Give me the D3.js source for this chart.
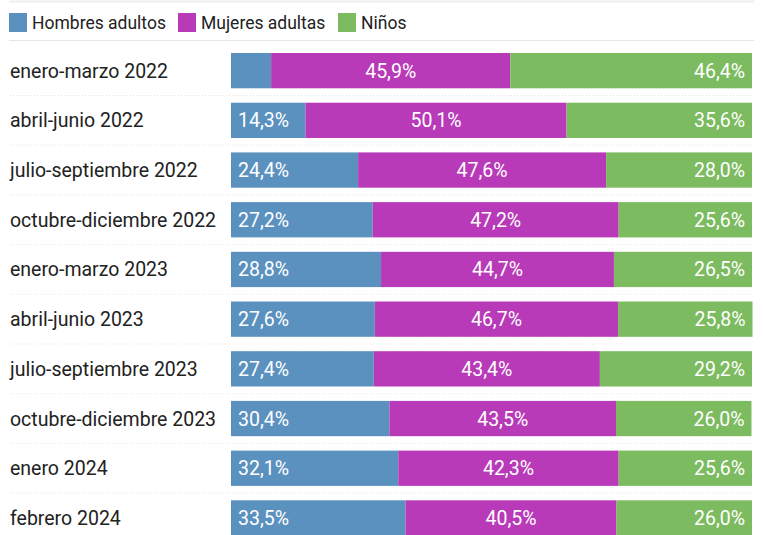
<!DOCTYPE html>
<html>
<head>
<meta charset="utf-8">
<script src="https://cdn.jsdelivr.net/npm/d3@7"></script>
<style>
  body { margin: 0; background: #fff; font-family: Roboto, "Noto Sans", sans-serif; }
</style>
</head>
<body>
<div id="chart"></div>
<script>
// categories + series (percent)
const periodos = ["enero-marzo 2022", "abril-junio 2022", "julio-septiembre 2022", "octubre-diciembre 2022",
  "enero-marzo 2023", "abril-junio 2023", "julio-septiembre 2023", "octubre-diciembre 2023",
  "enero 2024", "febrero 2024"];
const hombres = [7.7, 14.3, 24.4, 27.2, 28.8, 27.6, 27.4, 30.4, 32.1, 33.5];
const mujeres = [45.9, 50.1, 47.6, 47.2, 44.7, 46.7, 43.4, 43.5, 42.3, 40.5];
const ninos = [46.4, 35.6, 28.0, 25.6, 26.5, 25.8, 29.2, 26.0, 25.6, 26.0];
const series = ["Hombres adultos", "Mujeres adultas", "Niños"];
const colores = ["#5b91bf", "#b83ab8", "#7cbb5f"];

const width = 763, height = 535;
const svg = d3.select("#chart").append("svg")
  .attr("width", width).attr("height", height);

const rows = periodos.map((p, i) => ({ periodo: p, Hombres: hombres[i], Mujeres: mujeres[i], Ninos: ninos[i] }));
const stack = d3.stack().keys(["Hombres", "Mujeres", "Ninos"])(rows);

let x = d3.scaleLinear().domain([0, 100]).range([231, 752]);
let y = d3.scaleBand().domain(periodos).range([45.8, 542.8]).paddingInner(0.29).paddingOuter(0.145);
const fmt = v => d3.format(".1f")(v).replace(".", ",") + "%";

// top rules
svg.append("line").attr("x1", 9).attr("x2", 754).attr("y1", 1.5).attr("y2", 1.5)
  .attr("stroke", "#eeeeee").attr("stroke-width", 2);
svg.append("line").attr("x1", 9).attr("x2", 754).attr("y1", 40.5).attr("y2", 40.5)
  .attr("stroke", "#e6e6e6").attr("stroke-width", 1);

// legend
let lx = [9, 178, 338];
const legend = svg.append("g").selectAll("g").data(series).join("g")
  .attr("transform", (d, i) => `translate(${lx[i]},13)`);
legend.append("rect").attr("width", 18).attr("height", 19).attr("fill", (d, i) => colores[i]);
legend.append("text").attr("x", 23).attr("y", 16).attr("font-size", 17.5).attr("fill", "#222")
  .text(d => d);

// dotted separators between rows
const gap = (y.step() - y.bandwidth()) / 2;
svg.append("g").selectAll("line").data(periodos.slice(0, -1)).join("line")
  .attr("x1", 10).attr("x2", 752)
  .attr("y1", d => y(d) + y.bandwidth() + gap).attr("y2", d => y(d) + y.bandwidth() + gap)
  .attr("stroke", "#e4e4e4").attr("stroke-dasharray", "1,2");

// category labels
svg.append("g").selectAll("text").data(periodos).join("text")
  .attr("x", 10).attr("y", d => y(d) + y.bandwidth() / 2 + 7)
  .attr("font-size", 19.5).attr("fill", "#222").text(d => d);

// bars
stack.forEach((s, k) => {
  const g = svg.append("g");
  g.selectAll("rect").data(s).join("rect")
    .attr("x", d => x(d[0])).attr("width", d => x(d[1]) - x(d[0]))
    .attr("y", d => y(d.data.periodo)).attr("height", y.bandwidth())
    .attr("fill", colores[k]);
  g.selectAll("text").data(s.filter(d => x(d[1]) - x(d[0]) > 60)).join("text")
    .attr("x", d => k == 0 ? x(d[0]) + 7 : k == 1 ? (x(d[0]) + x(d[1])) / 2 : x(d[1]) - 7)
    .attr("y", d => y(d.data.periodo) + y.bandwidth() / 2 + 7)
    .attr("text-anchor", k == 0 ? "start" : k == 1 ? "middle" : "end")
    .attr("font-size", 19.5).attr("fill", "#fff")
    .text(d => fmt(d[1] - d[0]));
});
</script>
</body>
</html>
